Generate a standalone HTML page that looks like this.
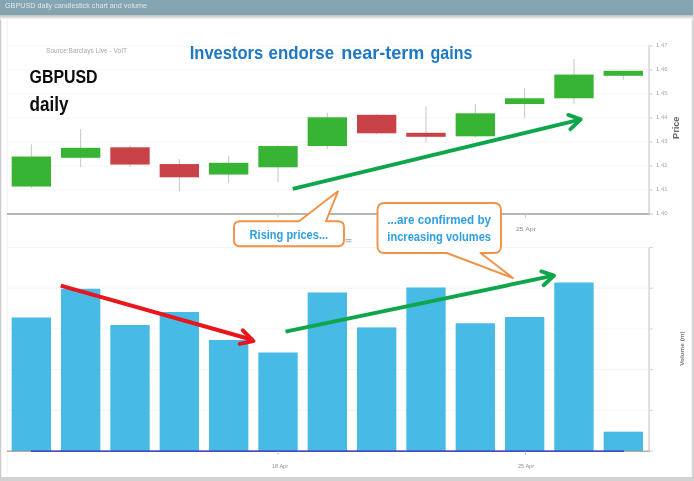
<!DOCTYPE html>
<html><head><meta charset="utf-8"><title>GBPUSD daily candlestick chart and volume</title>
<style>html,body{margin:0;padding:0;background:#fff}body{width:694px;height:481px;overflow:hidden}svg{display:block}text{font-family:"Liberation Sans",sans-serif}</style></head><body>
<svg width="694" height="481" viewBox="0 0 694 481">
<defs><linearGradient id="sh" x1="0" y1="0" x2="0" y2="1"><stop offset="0" stop-color="#a9b7bc"/><stop offset="0.45" stop-color="#d0d2d3"/><stop offset="1" stop-color="#ffffff"/></linearGradient><filter id="bl" x="0" y="0" width="694" height="481" filterUnits="userSpaceOnUse"><feGaussianBlur stdDeviation="0.7"/></filter></defs>
<rect x="0" y="0" width="694" height="481" fill="#ffffff"/>
<rect x="0" y="0" width="1.25" height="481" fill="#cbcbcb"/>
<rect x="691.7" y="0" width="2.3" height="481" fill="#d6d6d6"/>
<rect x="0" y="477" width="694" height="4" fill="#d2d2d2"/>
<rect x="0" y="14" width="693" height="5.6" fill="url(#sh)"/>
<rect x="0" y="0" width="693" height="14.6" fill="#84a5b1"/>
<rect x="0" y="12.6" width="693" height="2" fill="#82a0a8"/>
<text x="5" y="7.7" font-size="7.6" fill="#dde8ec" textLength="142" lengthAdjust="spacingAndGlyphs">GBPUSD daily candlestick chart and volume</text>
<g filter="url(#bl)">
<rect x="3" y="20" width="688" height="456" fill="#fff"/>
<line x1="7" y1="213.90" x2="649.5" y2="213.90" stroke="#f5f5f5" stroke-width="1"/>
<line x1="7" y1="189.90" x2="649.5" y2="189.90" stroke="#f5f5f5" stroke-width="1"/>
<line x1="7" y1="165.90" x2="649.5" y2="165.90" stroke="#f5f5f5" stroke-width="1"/>
<line x1="7" y1="141.90" x2="649.5" y2="141.90" stroke="#f5f5f5" stroke-width="1"/>
<line x1="7" y1="117.90" x2="649.5" y2="117.90" stroke="#f5f5f5" stroke-width="1"/>
<line x1="7" y1="93.90" x2="649.5" y2="93.90" stroke="#f5f5f5" stroke-width="1"/>
<line x1="7" y1="69.90" x2="649.5" y2="69.90" stroke="#f5f5f5" stroke-width="1"/>
<line x1="7" y1="45.90" x2="649.5" y2="45.90" stroke="#f5f5f5" stroke-width="1"/>
<line x1="7" y1="18" x2="7" y2="477" stroke="#f1f1f1" stroke-width="1"/>
<line x1="7" y1="247.50" x2="649.5" y2="247.50" stroke="#f5f5f5" stroke-width="1"/>
<line x1="7" y1="288.20" x2="649.5" y2="288.20" stroke="#f5f5f5" stroke-width="1"/>
<line x1="7" y1="328.90" x2="649.5" y2="328.90" stroke="#f5f5f5" stroke-width="1"/>
<line x1="7" y1="369.60" x2="649.5" y2="369.60" stroke="#f5f5f5" stroke-width="1"/>
<line x1="7" y1="410.30" x2="649.5" y2="410.30" stroke="#f5f5f5" stroke-width="1"/>
<line x1="7" y1="451.00" x2="649.5" y2="451.00" stroke="#f5f5f5" stroke-width="1"/>
<line x1="31.34" y1="144.3" x2="31.34" y2="188.3" stroke="#bcbfbc" stroke-width="0.9"/>
<rect x="11.67" y="156.55" width="39.35" height="30.00" fill="#39b434"/>
<line x1="80.67" y1="129.05" x2="80.67" y2="167.05" stroke="#bcbfbc" stroke-width="0.9"/>
<rect x="61.00" y="147.8" width="39.35" height="10.00" fill="#39b434"/>
<line x1="130.00" y1="145.3" x2="130.00" y2="167.05" stroke="#bcbfbc" stroke-width="0.9"/>
<rect x="110.33" y="147.3" width="39.35" height="17.25" fill="#c94247"/>
<line x1="179.34" y1="159.05" x2="179.34" y2="191.3" stroke="#bcbfbc" stroke-width="0.9"/>
<rect x="159.66" y="164.05" width="39.35" height="13.25" fill="#c94247"/>
<line x1="228.66" y1="155.8" x2="228.66" y2="182.8" stroke="#bcbfbc" stroke-width="0.9"/>
<rect x="208.99" y="162.8" width="39.35" height="11.75" fill="#39b434"/>
<line x1="278.00" y1="145.3" x2="278.00" y2="182.3" stroke="#bcbfbc" stroke-width="0.9"/>
<rect x="258.32" y="146.05" width="39.35" height="21.25" fill="#39b434"/>
<line x1="327.33" y1="112.8" x2="327.33" y2="149.05" stroke="#bcbfbc" stroke-width="0.9"/>
<rect x="307.65" y="117.3" width="39.35" height="28.75" fill="#39b434"/>
<line x1="376.66" y1="114.3" x2="376.66" y2="134.3" stroke="#bcbfbc" stroke-width="0.9"/>
<rect x="356.98" y="114.8" width="39.35" height="18.50" fill="#c94247"/>
<line x1="425.99" y1="106.3" x2="425.99" y2="142.3" stroke="#bcbfbc" stroke-width="0.9"/>
<rect x="406.31" y="132.8" width="39.35" height="4.00" fill="#c94247"/>
<line x1="475.31" y1="104.05" x2="475.31" y2="137.8" stroke="#bcbfbc" stroke-width="0.9"/>
<rect x="455.64" y="113.3" width="39.35" height="23.00" fill="#39b434"/>
<line x1="524.64" y1="87.8" x2="524.64" y2="117.8" stroke="#bcbfbc" stroke-width="0.9"/>
<rect x="504.97" y="98.3" width="39.35" height="5.75" fill="#39b434"/>
<line x1="573.97" y1="59.05" x2="573.97" y2="104.05" stroke="#bcbfbc" stroke-width="0.9"/>
<rect x="554.30" y="74.55" width="39.35" height="23.75" fill="#39b434"/>
<line x1="623.30" y1="70.8" x2="623.30" y2="79.8" stroke="#bcbfbc" stroke-width="0.9"/>
<rect x="603.63" y="70.8" width="39.35" height="5.00" fill="#39b434"/>
<line x1="7" y1="214.1" x2="649.6" y2="214.1" stroke="#9e9e9e" stroke-width="1.5"/>
<line x1="649.1" y1="45.5" x2="649.1" y2="214.5" stroke="#cacaca" stroke-width="1.2"/>
<line x1="649.5" y1="213.90" x2="653" y2="213.90" stroke="#d0d0d0" stroke-width="1"/>
<text x="656" y="215.10" font-size="5.6" fill="#a6a6a6" textLength="11.5" lengthAdjust="spacingAndGlyphs">1.40</text>
<line x1="649.5" y1="189.90" x2="653" y2="189.90" stroke="#d0d0d0" stroke-width="1"/>
<text x="656" y="191.10" font-size="5.6" fill="#a6a6a6" textLength="11.5" lengthAdjust="spacingAndGlyphs">1.41</text>
<line x1="649.5" y1="165.90" x2="653" y2="165.90" stroke="#d0d0d0" stroke-width="1"/>
<text x="656" y="167.10" font-size="5.6" fill="#a6a6a6" textLength="11.5" lengthAdjust="spacingAndGlyphs">1.42</text>
<line x1="649.5" y1="141.90" x2="653" y2="141.90" stroke="#d0d0d0" stroke-width="1"/>
<text x="656" y="143.10" font-size="5.6" fill="#a6a6a6" textLength="11.5" lengthAdjust="spacingAndGlyphs">1.43</text>
<line x1="649.5" y1="117.90" x2="653" y2="117.90" stroke="#d0d0d0" stroke-width="1"/>
<text x="656" y="119.10" font-size="5.6" fill="#a6a6a6" textLength="11.5" lengthAdjust="spacingAndGlyphs">1.44</text>
<line x1="649.5" y1="93.90" x2="653" y2="93.90" stroke="#d0d0d0" stroke-width="1"/>
<text x="656" y="95.10" font-size="5.6" fill="#a6a6a6" textLength="11.5" lengthAdjust="spacingAndGlyphs">1.45</text>
<line x1="649.5" y1="69.90" x2="653" y2="69.90" stroke="#d0d0d0" stroke-width="1"/>
<text x="656" y="71.10" font-size="5.6" fill="#a6a6a6" textLength="11.5" lengthAdjust="spacingAndGlyphs">1.46</text>
<line x1="649.5" y1="45.90" x2="653" y2="45.90" stroke="#d0d0d0" stroke-width="1"/>
<text x="656" y="47.10" font-size="5.6" fill="#a6a6a6" textLength="11.5" lengthAdjust="spacingAndGlyphs">1.47</text>
<line x1="525.5" y1="214" x2="525.5" y2="217.5" stroke="#c8c8c8" stroke-width="1"/>
<line x1="278" y1="214" x2="278" y2="217.5" stroke="#c8c8c8" stroke-width="1"/>
<text x="516" y="231" font-size="6" fill="#8f8f8f" textLength="20" lengthAdjust="spacingAndGlyphs">25 Apr</text>
<path d="M345.5 239.6 H351.5 M345.5 241.8 H351.5" stroke="#b3b3b3" stroke-width="1.1"/>
<text transform="translate(678.6,127.8) rotate(-90)" text-anchor="middle" font-size="8.5" font-weight="bold" fill="#666" textLength="22.3" lengthAdjust="spacingAndGlyphs">Price</text>
<rect x="11.67" y="317.5" width="39.35" height="133.50" fill="#47bae5"/>
<rect x="61.00" y="288.75" width="39.35" height="162.25" fill="#47bae5"/>
<rect x="110.33" y="325" width="39.35" height="126.00" fill="#47bae5"/>
<rect x="159.66" y="312" width="39.35" height="139.00" fill="#47bae5"/>
<rect x="208.99" y="340" width="39.35" height="111.00" fill="#47bae5"/>
<rect x="258.32" y="352.5" width="39.35" height="98.50" fill="#47bae5"/>
<rect x="307.65" y="292.5" width="39.35" height="158.50" fill="#47bae5"/>
<rect x="356.98" y="327.4" width="39.35" height="123.60" fill="#47bae5"/>
<rect x="406.31" y="287.5" width="39.35" height="163.50" fill="#47bae5"/>
<rect x="455.64" y="323.3" width="39.35" height="127.70" fill="#47bae5"/>
<rect x="504.97" y="317" width="39.35" height="134.00" fill="#47bae5"/>
<rect x="554.30" y="282.5" width="39.35" height="168.50" fill="#47bae5"/>
<rect x="603.63" y="431.7" width="39.35" height="19.30" fill="#47bae5"/>
<line x1="7" y1="451.2" x2="650" y2="451.2" stroke="#8a8a8a" stroke-width="1"/>
<line x1="31" y1="451.2" x2="624" y2="451.2" stroke="#2a2fc8" stroke-width="1.2"/>
<line x1="649.1" y1="247.5" x2="649.1" y2="451.5" stroke="#cacaca" stroke-width="1.2"/>
<line x1="649.5" y1="247.50" x2="653" y2="247.50" stroke="#d6d6d6" stroke-width="1"/>
<line x1="649.5" y1="288.20" x2="653" y2="288.20" stroke="#d6d6d6" stroke-width="1"/>
<line x1="649.5" y1="328.90" x2="653" y2="328.90" stroke="#d6d6d6" stroke-width="1"/>
<line x1="649.5" y1="369.60" x2="653" y2="369.60" stroke="#d6d6d6" stroke-width="1"/>
<line x1="649.5" y1="410.30" x2="653" y2="410.30" stroke="#d6d6d6" stroke-width="1"/>
<line x1="649.5" y1="451.00" x2="653" y2="451.00" stroke="#d6d6d6" stroke-width="1"/>
<line x1="278" y1="451.5" x2="278" y2="455" stroke="#c8c8c8" stroke-width="1"/>
<line x1="525.5" y1="451.5" x2="525.5" y2="455" stroke="#c8c8c8" stroke-width="1"/>
<text x="272" y="467.5" font-size="5.5" fill="#8f8f8f" textLength="16" lengthAdjust="spacingAndGlyphs">18 Apr</text>
<text x="518" y="467.5" font-size="5.5" fill="#8f8f8f" textLength="16" lengthAdjust="spacingAndGlyphs">25 Apr</text>
<text transform="translate(684.3,348.6) rotate(-90)" text-anchor="middle" font-size="6" font-weight="bold" fill="#7a7a7a" textLength="34.5" lengthAdjust="spacingAndGlyphs">Volume (m)</text>
<text x="46" y="53.3" font-size="6.6" fill="#a9a9a9" textLength="81" lengthAdjust="spacingAndGlyphs">Source:Barclays Live - VoIT</text>
<text y="58.6" font-size="19" font-weight="bold" fill="#1f78c2"><tspan x="189.7" textLength="73.5" lengthAdjust="spacingAndGlyphs">Investors</tspan> <tspan x="268.6" textLength="65.5" lengthAdjust="spacingAndGlyphs">endorse</tspan> <tspan x="341.2" textLength="83.2" lengthAdjust="spacingAndGlyphs">near-term</tspan> <tspan x="430.6" textLength="41.8" lengthAdjust="spacingAndGlyphs">gains</tspan></text>
<text x="29.6" y="82.7" font-size="17.6" font-weight="bold" fill="#0a0a0a" textLength="68" lengthAdjust="spacingAndGlyphs">GBPUSD</text>
<text x="29.6" y="110.9" font-size="20" font-weight="bold" fill="#0a0a0a" textLength="39" lengthAdjust="spacingAndGlyphs">daily</text>
<g fill="none" stroke="#10a64c" stroke-width="3.9" stroke-linejoin="round"><path d="M292.7 188.9 L580 119.6"/><path stroke-linecap="round" d="M568.3 114.9 L580.7 119.4 L570.4 129.1"/></g>
<g fill="none" stroke="#e9121a" stroke-width="4" stroke-linejoin="round"><path d="M60.75 285.6 L253 340"/><path stroke-linecap="round" d="M242.8 330.4 L253.4 341.1 L239.7 343.9"/></g>
<g fill="none" stroke="#10a64c" stroke-width="3.9" stroke-linejoin="round"><path d="M285.5 331.7 L553.5 275.7"/><path stroke-linecap="round" d="M541.3 271.45 L554 275.6 L543.6 285.2"/></g>
<path d="M240 221.2 H299 L338 191.3 L326 221.2 H338 Q344 221.2 344 227.2 V240.2 Q344 246.2 338 246.2 H240 Q234 246.2 234 240.2 V227.2 Q234 221.2 240 221.2 Z" fill="#fff" stroke="#f09246" stroke-width="1.9" stroke-linejoin="round"/>
<text x="249.6" y="238.5" font-size="13" font-weight="bold" fill="#2f9fe3" textLength="78.5" lengthAdjust="spacingAndGlyphs">Rising prices...</text>
<path d="M384.5 203 H494 Q501 203 501 210 V246 Q501 253 494 253 H480.5 L513 278 L446.7 253 H384.5 Q377.5 253 377.5 246 V210 Q377.5 203 384.5 203 Z" fill="#fff" stroke="#f09246" stroke-width="1.9" stroke-linejoin="round"/>
<text x="387.3" y="223.6" font-size="13" font-weight="bold" fill="#2f9fe3" textLength="103.7" lengthAdjust="spacingAndGlyphs">...are confirmed by</text>
<text x="387.3" y="241" font-size="13" font-weight="bold" fill="#2f9fe3" textLength="103.7" lengthAdjust="spacingAndGlyphs">increasing volumes</text>
</g>
</svg></body></html>
